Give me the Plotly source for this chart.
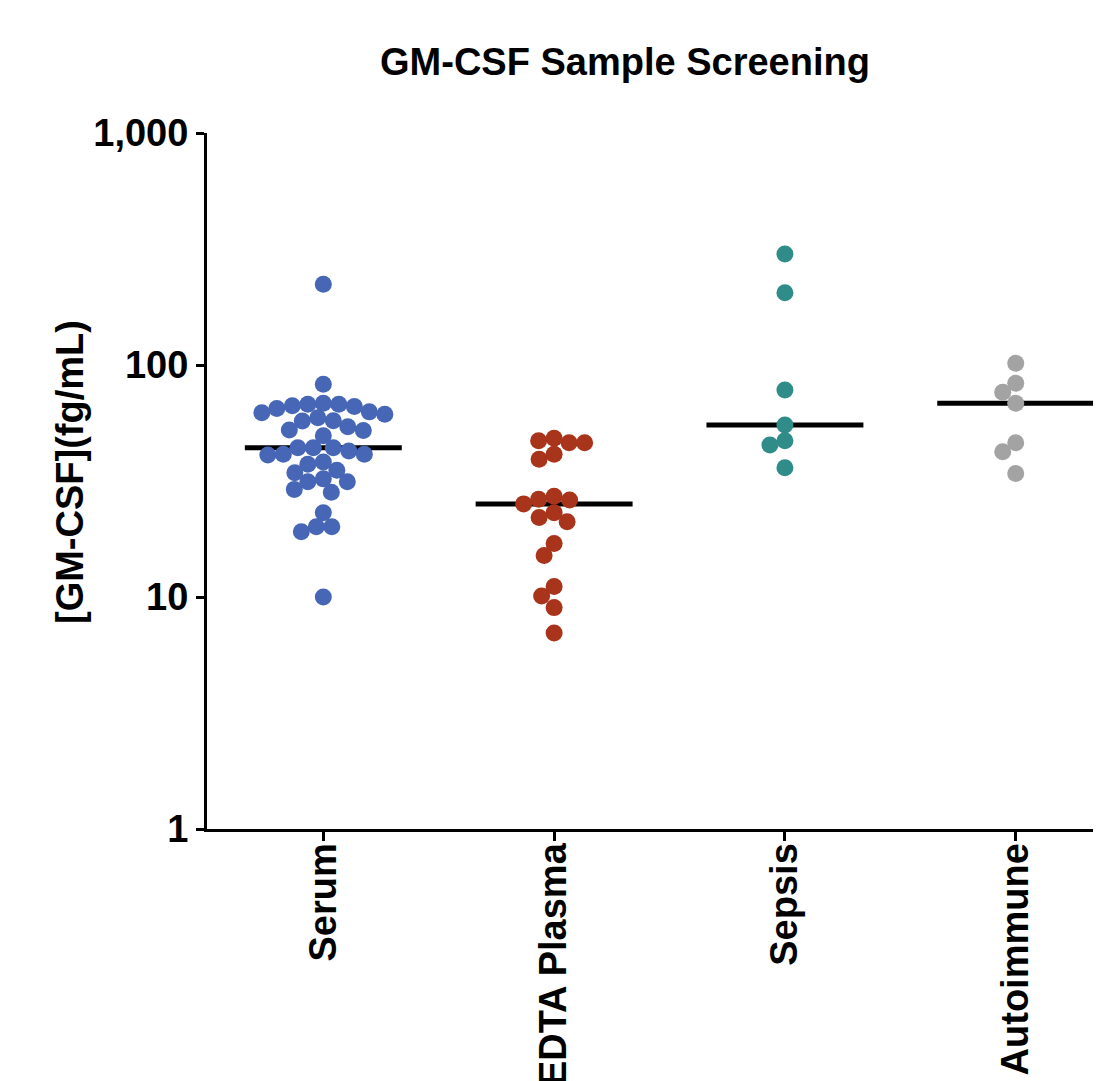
import numpy as np
import plotly.graph_objects as go

# ---------------- data ----------------
CATEGORIES = ["Serum", "EDTA Plasma", "Sepsis", "Autoimmune"]

SERUM = [223, 82.6, 66.8, 62.3, 67.7, 65.0, 68.4, 66.3, 67.7, 62.8,
         57.5, 59.2, 57.4, 61.4, 52.5, 52.2, 54.2, 49.5, 44.0, 40.9,
         42.6, 44.0, 44.0, 41.2, 41.2, 38.2, 35.2, 37.3, 34.3, 32.3,
         31.4, 31.4, 28.3, 29.1, 23.1, 20.1, 19.1, 20.1, 10.0]
EDTA_PLASMA = [47.2, 46.2, 48.3, 46.2, 39.2, 41.2, 25.2, 26.4, 27.2, 26.2,
               22.0, 21.1, 23.1, 17.0, 15.1, 11.1, 10.1, 9.0, 7.0]
SEPSIS = [301, 205, 78.0, 55.1, 47.2, 45.2, 36.1]
AUTOIMMUNE = [101.7, 83.4, 76.3, 68.4, 46.2, 42.3, 34.1]

COLORS = ["#4766B6", "#A8341B", "#2F8C89", "#A3A3A3"]

Y_TICKS = [1, 10, 100, 1000]
Y_TICK_TEXT = ["1", "10", "100", "1,000"]

TITLE = "GM-CSF Sample Screening"
Y_TITLE = "[GM-CSF](fg/mL)"

# ---------------- layout constants ----------------
OFF = 8                      # page offset of the figure inside the browser
W, H = 1101, 1081
M_L, M_T = 207 - OFF, 133 - OFF
PLOT_H = 696
M_B = H - M_T - PLOT_H
M_R = 0
PX_PER_UNIT = 230.8
X_LEFT = -0.504
plot_w = W - M_L - M_R
X_RANGE = [X_LEFT, X_LEFT + plot_w / PX_PER_UNIT]
Y_RANGE = [0, 3]  # log10
MARKER_D = 17
SWARM_GAP = 15.5            # allowed centre distance (slight overlap as in reference)
FONT = "Liberation Sans, Arial, sans-serif"

px_per_decade = PLOT_H / (Y_RANGE[1] - Y_RANGE[0])


def swarm_offsets(values):
    """Simple beeswarm: place points (largest first) at the smallest
    horizontal offset that avoids overlapping already placed markers."""
    ys = np.log10(np.asarray(values, dtype=float)) * px_per_decade
    order = np.argsort(-ys, kind="stable")
    cands = [0.0]
    for k in range(1, 400):
        cands += [-0.5 * k, 0.5 * k]
    placed = []
    offs = np.zeros(len(ys))
    lim = SWARM_GAP ** 2
    for i in order:
        y = ys[i]
        for c in cands:
            if all((c - px) ** 2 + (y - py) ** 2 >= lim for px, py in placed):
                offs[i] = c
                placed.append((c, y))
                break
    return offs / PX_PER_UNIT


groups = [SERUM, EDTA_PLASMA, SEPSIS, AUTOIMMUNE]

fig = go.Figure()

# median lines (drawn first, markers on top)
for i, vals in enumerate(groups):
    med = float(np.median(vals))
    fig.add_trace(go.Scatter(
        x=[i - 0.34, i + 0.34], y=[med, med], mode="lines",
        line=dict(color="black", width=5), hoverinfo="skip",
        showlegend=False))

for i, (vals, col) in enumerate(zip(groups, COLORS)):
    offs = swarm_offsets(vals)
    fig.add_trace(go.Scatter(
        x=i + offs, y=vals, mode="markers",
        marker=dict(size=MARKER_D, color=col, line=dict(width=0)),
        name=CATEGORIES[i], showlegend=False))

axis_font = dict(family=FONT, size=38, color="black", weight="bold")

fig.update_layout(
    width=W, height=H,
    margin=dict(l=M_L, r=M_R, t=M_T, b=M_B, autoexpand=False),
    plot_bgcolor="white", paper_bgcolor="white",
    showlegend=False,
    title=dict(text=TITLE, x=(625 - OFF - M_L) / plot_w, xref="paper",
               xanchor="center", y=1 - (62 - OFF) / H, yref="container",
               yanchor="middle",
               font=dict(family=FONT, size=38, color="black", weight="bold")),
    xaxis=dict(range=X_RANGE, tickvals=list(range(len(CATEGORIES))),
               ticktext=CATEGORIES, tickangle=-90, ticks="outside",
               ticklen=9, tickwidth=3, tickcolor="black",
               ticklabelstandoff=-13,
               showline=True, linewidth=3, linecolor="black",
               showgrid=False, zeroline=False, tickfont=axis_font),
    yaxis=dict(type="log", range=Y_RANGE, tickvals=Y_TICKS,
               ticktext=Y_TICK_TEXT, ticks="outside", ticklen=8,
               tickwidth=3, tickcolor="black", showline=True,
               linewidth=3, linecolor="black", showgrid=False,
               zeroline=False, tickfont=axis_font),
    annotations=[dict(text=Y_TITLE, textangle=-90, xref="paper",
                      yref="paper", x=(70 - OFF - M_L) / plot_w,
                      y=(829 - 472) / PLOT_H,
                      xanchor="center", yanchor="middle", showarrow=False,
                      font=dict(family=FONT, size=38, color="black",
                                weight="bold"))],
)

fig.write_html("out.html")
